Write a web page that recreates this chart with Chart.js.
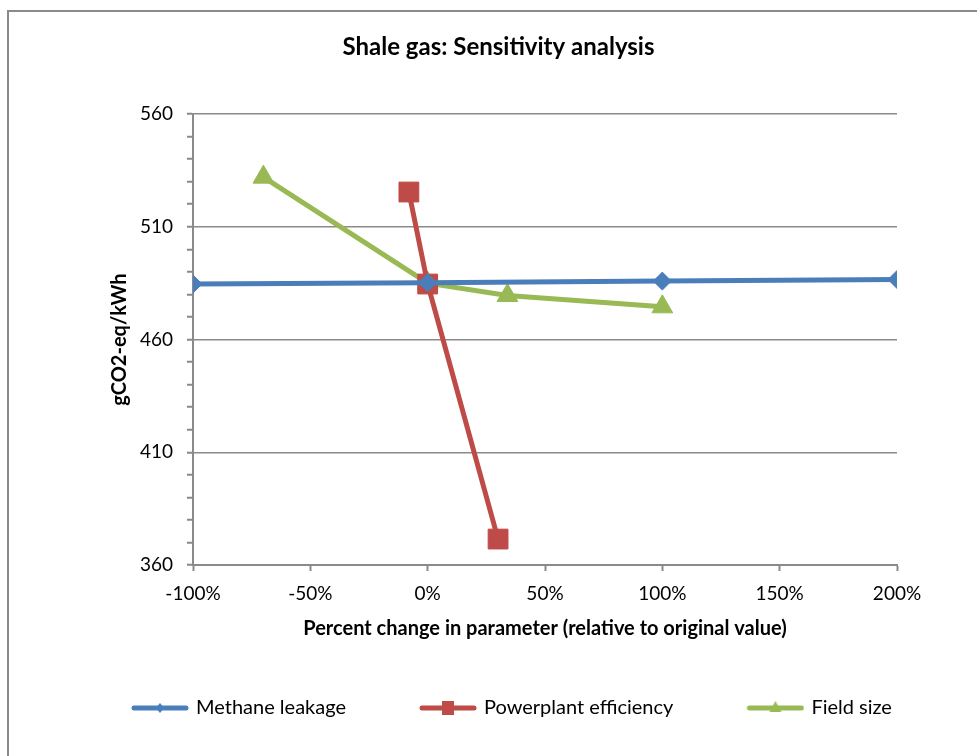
<!DOCTYPE html>
<html lang="en">

<head>
    <meta charset="UTF-8">
    <script src="https://cdn.jsdelivr.net/npm/chart.js"></script>
    <title>Shale gas: Sensitivity analysis</title>
    <style>
        body { margin: 0; background: #fff; }
        .moldura { position: relative; width: 977px; height: 756px; overflow: hidden; }
        .borda { position: absolute; left: 7px; top: 10px; width: 1000px; height: 800px;
                 border-left: 2px solid #8a8a8a; border-top: 2px solid #8a8a8a; }
        canvas { position: absolute; left: 0; top: 0; }
    </style>
</head>

<body>
    <div class="moldura">
        <div class="borda"></div>
        <canvas id="grafico" width="977" height="756"></canvas>
    </div>
</body>

</html>

<script>
    // percent change (x) and gCO2-eq/kWh (y)
    var metanoX = [-100, 0, 100, 200]
    var metanoY = [484.6, 485.2, 485.9, 486.6]

    var usinaX = [-8, 0, 30]
    var usinaY = [525.4, 484.6, 371.5]

    var campoX = [-70, 0, 34, 100]
    var campoY = [532, 485, 479.5, 474.5]

    var xTicks = [-100, -50, 0, 50, 100, 150, 200]
    var yMin = 360, yMax = 560, yMajor = 50, yMinor = 10

    var nomes = ['Methane leakage', 'Powerplant efficiency', 'Field size']
    var cores = ['#4a7ebb', '#be4b48', '#98b954']

    function pontos(xs, ys) {
        return xs.map((x, i) => ({ x: x, y: ys[i] }))
    }

    function principal(v) {
        return Math.abs((v - yMin) % yMajor) < 0.001
    }

    // little line + marker picture used as the legend symbol
    function simbolo(cor, tipo) {
        var c = document.createElement('canvas')
        c.width = 114
        c.height = 16
        var ctx = c.getContext('2d')
        ctx.strokeStyle = cor
        ctx.fillStyle = cor
        ctx.lineWidth = 5
        ctx.lineCap = 'round'
        ctx.beginPath()
        ctx.moveTo(59, 8)
        ctx.lineTo(111, 8)
        ctx.stroke()
        var cx = 85, cy = 8
        ctx.beginPath()
        if (tipo == 'diamante') {
            ctx.moveTo(cx, cy - 5); ctx.lineTo(cx + 4, cy); ctx.lineTo(cx, cy + 5); ctx.lineTo(cx - 4, cy)
        } else if (tipo == 'quadrado') {
            ctx.rect(cx - 6, cy - 7, 12, 14)
        } else {
            ctx.moveTo(cx, cy - 7); ctx.lineTo(cx + 6, cy + 4); ctx.lineTo(cx - 6, cy + 4)
        }
        ctx.closePath()
        ctx.fill()
        return c
    }

    var simbolos = [simbolo(cores[0], 'diamante'), simbolo(cores[1], 'quadrado'), simbolo(cores[2], 'triangulo')]

    Chart.defaults.font.family = 'Lato, "Liberation Sans", sans-serif'
    Chart.defaults.color = '#000'

    var grafico = new Chart(document.getElementById('grafico').getContext('2d'), {
        type: 'line',
        data: {
            datasets: [{
                label: nomes[0],
                data: pontos(metanoX, metanoY),
                borderColor: cores[0],
                backgroundColor: cores[0],
                borderWidth: 5,
                pointStyle: 'rectRot',
                pointRadius: 9,
                pointBorderWidth: 1
            },
            {
                label: nomes[1],
                data: pontos(usinaX, usinaY),
                borderColor: cores[1],
                backgroundColor: cores[1],
                borderWidth: 5,
                pointStyle: 'rect',
                pointRadius: 14,
                pointBorderWidth: 1
            },
            {
                label: nomes[2],
                data: pontos(campoX, campoY),
                borderColor: cores[2],
                backgroundColor: cores[2],
                borderWidth: 5,
                pointStyle: 'triangle',
                pointRadius: 12,
                pointBorderWidth: 1
            }]
        },
        options: {
            responsive: false,
            animation: false,
            layout: {
                padding: { left: 58, right: 38, top: 10, bottom: 28 }
            },
            plugins: {
                title: {
                    display: true,
                    text: 'Shale gas: Sensitivity analysis',
                    font: { size: 24, weight: 'bold' },
                    padding: { top: 22.6, bottom: 52.6 }
                },
                legend: {
                    position: 'bottom',
                    align: 'start',
                    labels: {
                        usePointStyle: true,
                        pointStyleWidth: 108,
                        padding: 20,
                        font: { size: 20 },
                        generateLabels: (chart) => chart.data.datasets.map((ds, i) => ({
                            text: ds.label,
                            pointStyle: simbolos[i],
                            fillStyle: ds.borderColor,
                            strokeStyle: ds.borderColor,
                            lineWidth: 0,
                            datasetIndex: i
                        }))
                    }
                },
                tooltip: { enabled: false }
            },
            scales: {
                x: {
                    type: 'linear',
                    min: xTicks[0],
                    max: xTicks[xTicks.length - 1],
                    afterBuildTicks: (escala) => {
                        escala.ticks = xTicks.map(v => ({ value: v }))
                    },
                    afterFit: (escala) => {
                        escala.height = 113
                        escala.paddingRight = 80
                    },
                    ticks: {
                        font: { size: 19 },
                        padding: 11,
                        maxRotation: 0,
                        callback: (v) => v + '%'
                    },
                    grid: {
                        drawOnChartArea: false,
                        tickLength: 6,
                        tickColor: '#8a8a8a',
                        tickWidth: 2
                    },
                    border: { color: '#8a8a8a', width: 2 },
                    title: {
                        display: true,
                        text: 'Percent change in parameter (relative to original value)',
                        font: { size: 20, weight: 'bold' },
                        padding: { top: 0, bottom: 37 }
                    }
                },
                y: {
                    min: yMin,
                    max: yMax,
                    afterFit: (escala) => { escala.width = 135 },
                    ticks: {
                        stepSize: yMinor,
                        autoSkip: false,
                        font: { size: 19 },
                        padding: 14,
                        callback: (v) => principal(v) ? v : ''
                    },
                    grid: {
                        color: (ctx) => ctx.tick && principal(ctx.tick.value) ? '#8a8a8a' : 'rgba(0,0,0,0)',
                        lineWidth: 1.5,
                        tickLength: 6,
                        tickColor: '#8a8a8a',
                        tickWidth: 2
                    },
                    border: { color: '#8a8a8a', width: 2 },
                    title: {
                        display: true,
                        text: 'gCO2-eq/kWh',
                        font: { size: 20, weight: 'bold' },
                        padding: { top: 50, bottom: 0 }
                    }
                }
            }
        }
    });
</script>
